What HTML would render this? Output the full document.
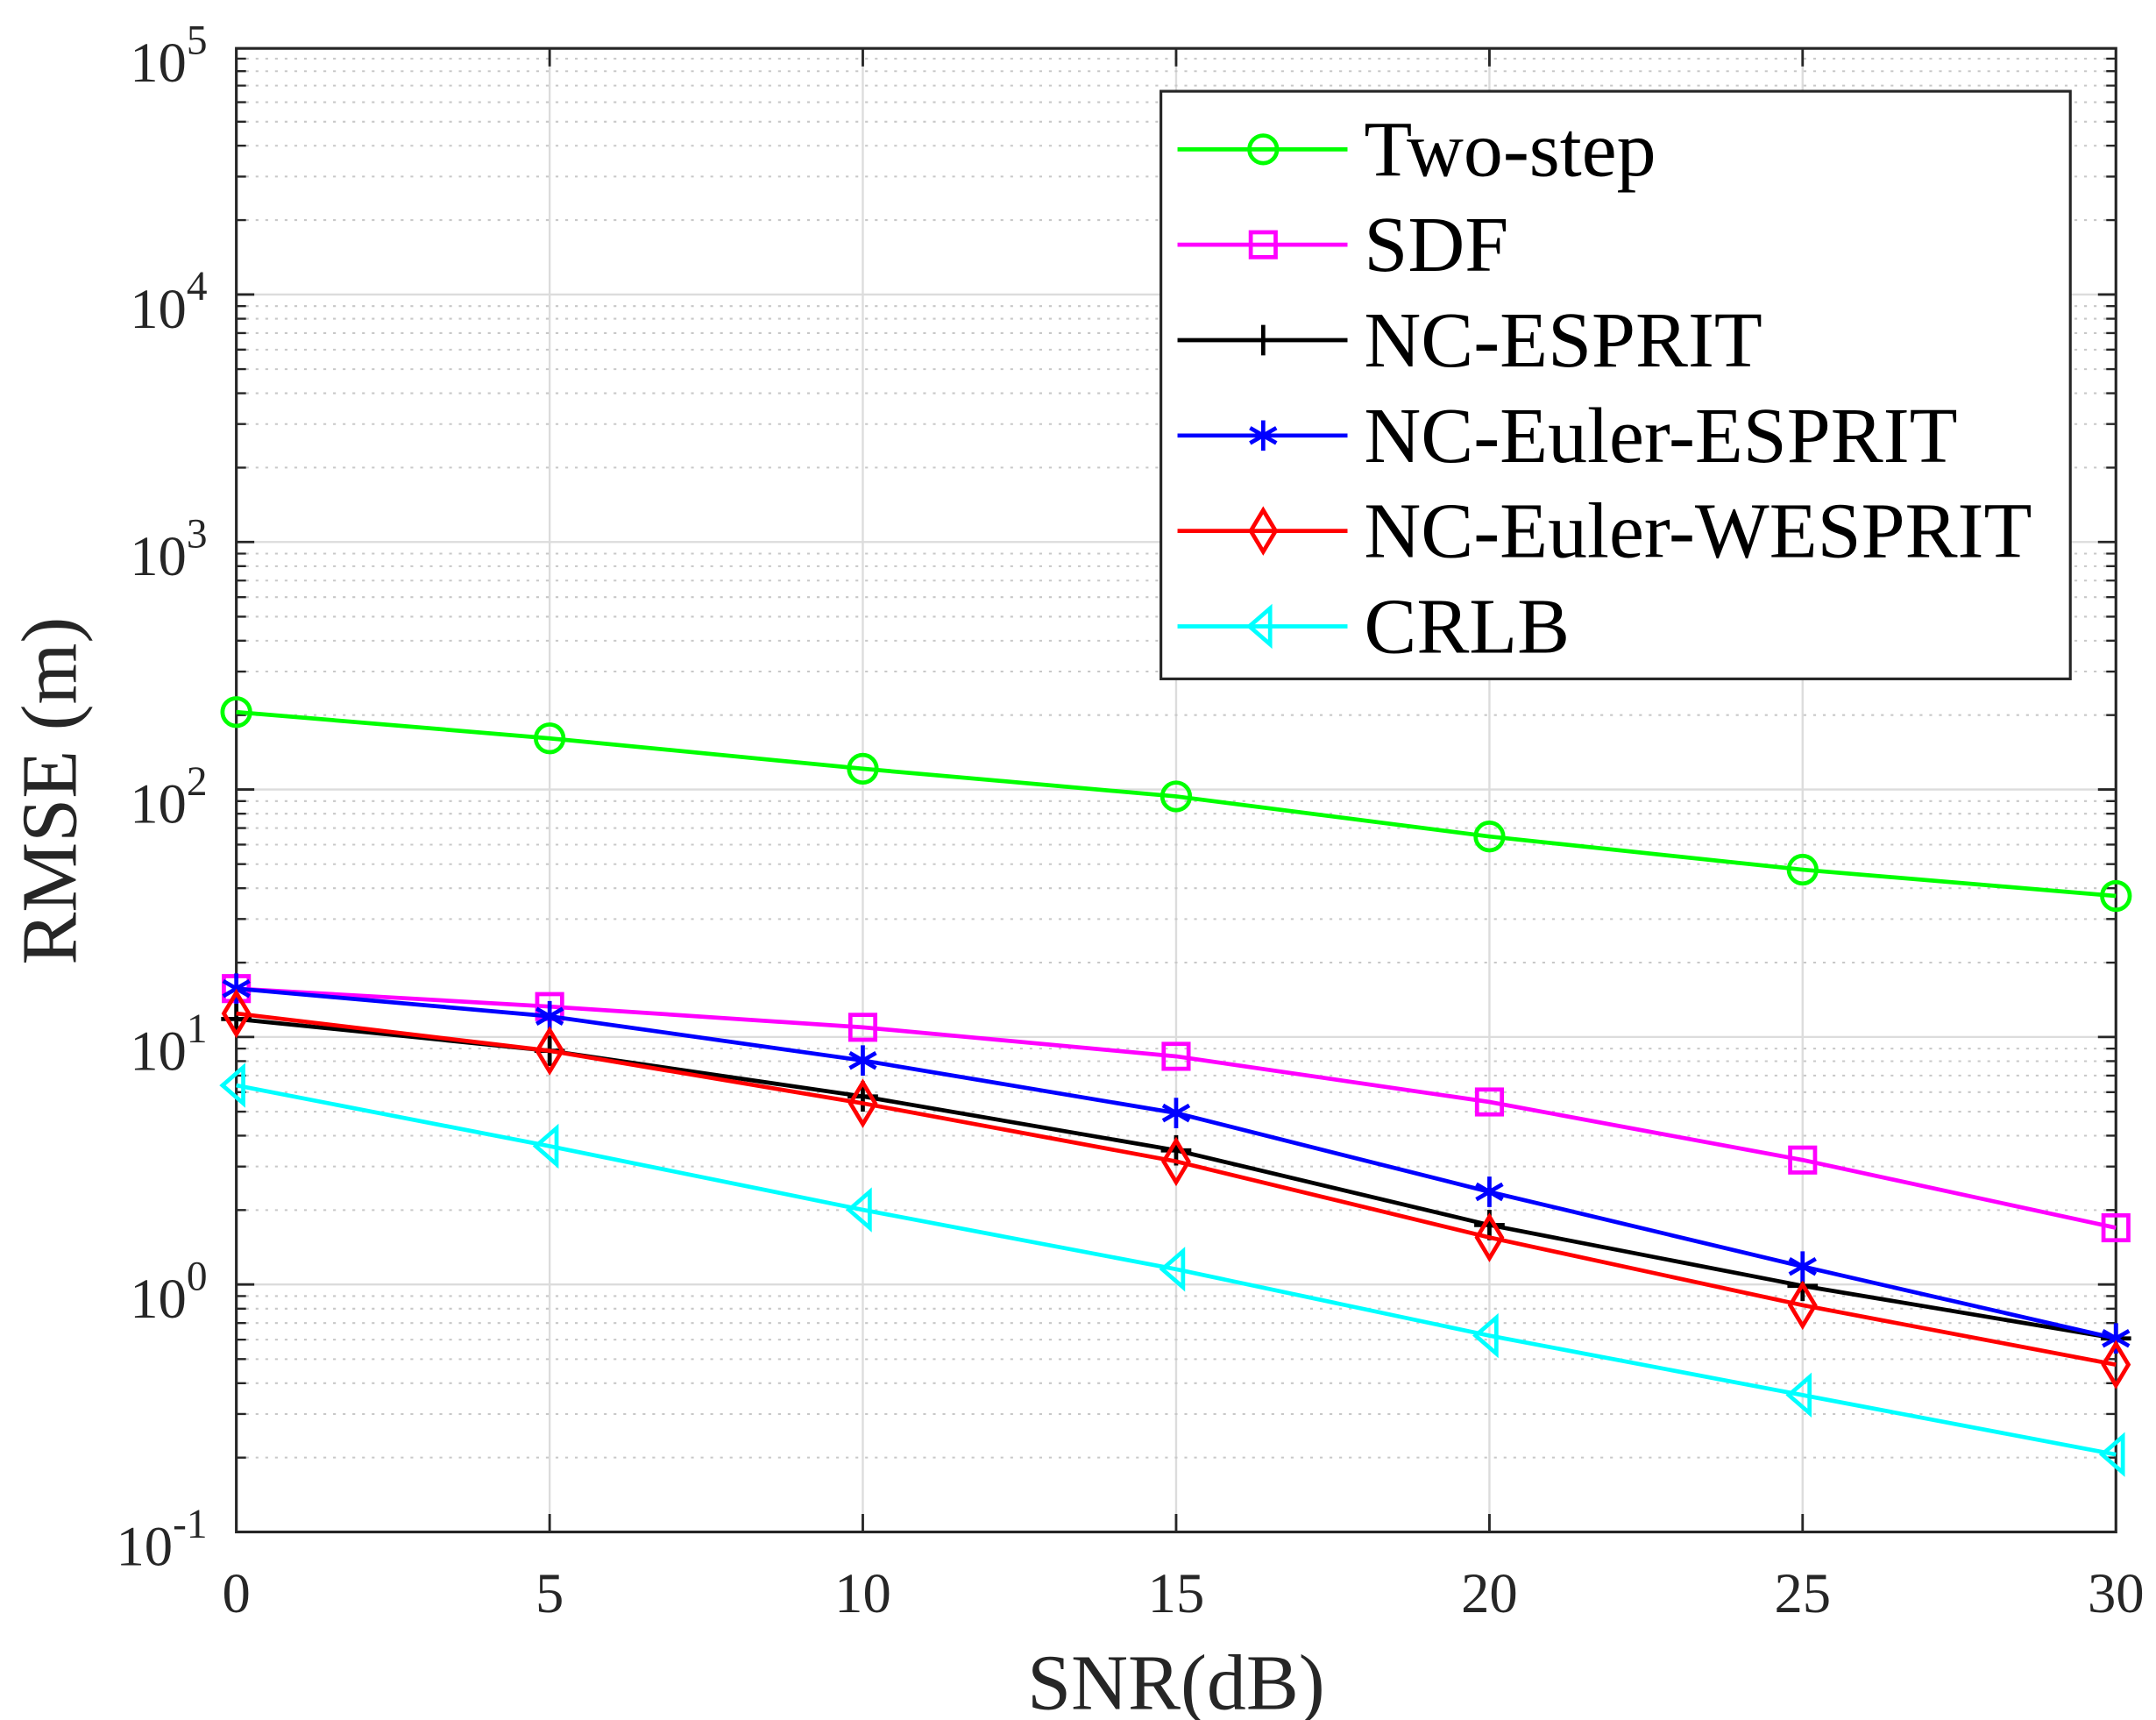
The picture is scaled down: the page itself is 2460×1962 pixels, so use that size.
<!DOCTYPE html>
<html><head><style>html,body{margin:0;padding:0;background:#fff}svg{display:block}</style></head><body>
<svg width="2460" height="1962" viewBox="0 0 1560 1244" preserveAspectRatio="none" xmlns="http://www.w3.org/2000/svg" font-family="'Liberation Serif', serif">
<defs>
<g id="m">
<g stroke="#c8c8c8" stroke-width="1.3" stroke-dasharray="2,5">
<line x1="171" x2="1531" y1="-53.8" y2="-53.8"/><line x1="171" x2="1531" y1="-85.3" y2="-85.3"/>
<line x1="171" x2="1531" y1="-107.6" y2="-107.6"/><line x1="171" x2="1531" y1="-125" y2="-125"/>
<line x1="171" x2="1531" y1="-139.1" y2="-139.1"/><line x1="171" x2="1531" y1="-151.1" y2="-151.1"/>
<line x1="171" x2="1531" y1="-161.5" y2="-161.5"/><line x1="171" x2="1531" y1="-170.6" y2="-170.6"/>
</g>
<g stroke="#262626" stroke-width="1.5">
<path d="M171 -53.8h7M171 -85.3h7M171 -107.6h7M171 -125h7M171 -139.1h7M171 -151.1h7M171 -161.5h7M171 -170.6h7"/>
<path d="M1531 -53.8h-7M1531 -85.3h-7M1531 -107.6h-7M1531 -125h-7M1531 -139.1h-7M1531 -151.1h-7M1531 -161.5h-7M1531 -170.6h-7"/>
</g>
</g>
<path id="a" d="M0 -11v22M-9.5 -5.5l19 11M-9.5 5.5l19 -11"/>
<path id="d" d="M0 -15L9 0L0 15L-9 0Z"/>
<path id="t" d="M-10 0L5 -13L5 13Z"/>
</defs>
<g stroke="#dcdcdc" stroke-width="1.5">
<path d="M171 213H1531M171 392H1531M171 571H1531M171 750H1531M171 929H1531"/>
<path d="M397.7 35V1108M624.3 35V1108M851 35V1108M1077.7 35V1108M1304.3 35V1108"/>
</g>
<use href="#m" y="1108"/><use href="#m" y="929"/><use href="#m" y="750"/><use href="#m" y="571"/><use href="#m" y="392"/><use href="#m" y="213"/>
<g stroke="#262626" stroke-width="1.8">
<path d="M171 213h13M171 392h13M171 571h13M171 750h13M171 929h13M1531 213h-13M1531 392h-13M1531 571h-13M1531 750h-13M1531 929h-13"/>
<path d="M397.7 1108v-13M624.3 1108v-13M851 1108v-13M1077.7 1108v-13M1304.3 1108v-13M397.7 35v13M624.3 35v13M851 35v13M1077.7 35v13M1304.3 35v13"/>
</g>
<rect x="171" y="35" width="1360" height="1073" fill="none" stroke="#262626" stroke-width="2"/>
<g font-size="41" fill="#262626" text-anchor="middle">
<text x="171" y="1166">0</text><text x="397.7" y="1166">5</text><text x="624.3" y="1166">10</text><text x="851" y="1166">15</text><text x="1077.7" y="1166">20</text><text x="1304.3" y="1166">25</text><text x="1531" y="1166">30</text>
</g>
<g font-size="41" fill="#262626">
<text x="84" y="1132">10<tspan font-size="30" dy="-20">-1</tspan></text>
<text x="94" y="953">10<tspan font-size="30" dy="-20">0</tspan></text>
<text x="94" y="774">10<tspan font-size="30" dy="-20">1</tspan></text>
<text x="94" y="595">10<tspan font-size="30" dy="-20">2</tspan></text>
<text x="94" y="416">10<tspan font-size="30" dy="-20">3</tspan></text>
<text x="94" y="237">10<tspan font-size="30" dy="-20">4</tspan></text>
<text x="94" y="59">10<tspan font-size="30" dy="-20">5</tspan></text>
</g>
<text x="851" y="1236" font-size="57" fill="#262626" text-anchor="middle">SNR(dB)</text>
<text transform="translate(55 572) rotate(-90)" font-size="57" fill="#262626" text-anchor="middle">RMSE (m)</text>
<g fill="none" stroke-width="3">
<polyline stroke="#00ff00" points="171,515 397.7,534 624.3,556 851,576 1077.7,605 1304.3,629 1531,648"/>
<g stroke="#00ff00"><circle cx="171" cy="515" r="10"/><circle cx="397.7" cy="534" r="10"/><circle cx="624.3" cy="556" r="10"/><circle cx="851" cy="576" r="10"/><circle cx="1077.7" cy="605" r="10"/><circle cx="1304.3" cy="629" r="10"/><circle cx="1531" cy="648" r="10"/></g>
<polyline stroke="#ff00ff" points="171,715 397.7,728 624.3,743 851,764 1077.7,797 1304.3,839 1531,888"/>
<g stroke="#ff00ff"><rect x="162" y="706" width="18" height="18"/><rect x="388.7" y="719" width="18" height="18"/><rect x="615.3" y="734" width="18" height="18"/><rect x="842" y="755" width="18" height="18"/><rect x="1068.7" y="788" width="18" height="18"/><rect x="1295.3" y="830" width="18" height="18"/><rect x="1522" y="879" width="18" height="18"/></g>
<polyline stroke="#000" points="171,737 397.7,760 624.3,793 851,832 1077.7,886 1304.3,930 1531,968"/>
<path stroke="#000" d="M171 726v22M160 737h22M397.7 749v22M386.7 760h22M624.3 782v22M613.3 793h22M851 821v22M840 832h22M1077.7 875v22M1066.7 886h22M1304.3 919v22M1293.3 930h22M1531 957v22M1520 968h22"/>
<polyline stroke="#0000ff" points="171,715 397.7,735 624.3,767 851,805 1077.7,862 1304.3,916 1531,968"/>
<g stroke="#0000ff" stroke-width="3">
<use href="#a" x="171" y="715"/><use href="#a" x="397.7" y="735"/><use href="#a" x="624.3" y="767"/><use href="#a" x="851" y="805"/><use href="#a" x="1077.7" y="862"/><use href="#a" x="1304.3" y="916"/><use href="#a" x="1531" y="968"/>
</g>
<polyline stroke="#ff0000" points="171,733 397.7,760 624.3,798 851,840 1077.7,895 1304.3,944 1531,987"/>
<g stroke="#ff0000">
<use href="#d" x="171" y="733"/><use href="#d" x="397.7" y="760"/><use href="#d" x="624.3" y="798"/><use href="#d" x="851" y="840"/><use href="#d" x="1077.7" y="895"/><use href="#d" x="1304.3" y="944"/><use href="#d" x="1531" y="987"/>
</g>
<polyline stroke="#00ffff" points="171,785 397.7,829 624.3,875 851,918 1077.7,966 1304.3,1009 1531,1052"/>
<g stroke="#00ffff">
<use href="#t" x="171" y="785"/><use href="#t" x="397.7" y="829"/><use href="#t" x="624.3" y="875"/><use href="#t" x="851" y="918"/><use href="#t" x="1077.7" y="966"/><use href="#t" x="1304.3" y="1009"/><use href="#t" x="1531" y="1052"/>
</g>
</g>
<rect x="840" y="66" width="658" height="425" fill="#fff" stroke="#262626" stroke-width="2"/>
<g fill="none" stroke-width="3">
<path stroke="#00ff00" d="M852 108h123"/><circle stroke="#00ff00" cx="914" cy="108" r="10"/>
<path stroke="#ff00ff" d="M852 177h123"/><rect stroke="#ff00ff" x="905" y="168" width="18" height="18"/>
<path stroke="#000" d="M852 246h123M914 235v22"/>
<path stroke="#0000ff" d="M852 315h123"/><use href="#a" x="914" y="315" stroke="#0000ff"/>
<path stroke="#ff0000" d="M852 384h123"/><use href="#d" x="914" y="384" stroke="#ff0000"/>
<path stroke="#00ffff" d="M852 453h123"/><use href="#t" x="914" y="453" stroke="#00ffff"/>
</g>
<g font-size="57" fill="#000">
<text x="987" y="127">Two-step</text>
<text x="987" y="196">SDF</text>
<text x="987" y="265">NC-ESPRIT</text>
<text x="987" y="334">NC-Euler-ESPRIT</text>
<text x="987" y="403">NC-Euler-WESPRIT</text>
<text x="987" y="472">CRLB</text>
</g>
</svg>
</body></html>
